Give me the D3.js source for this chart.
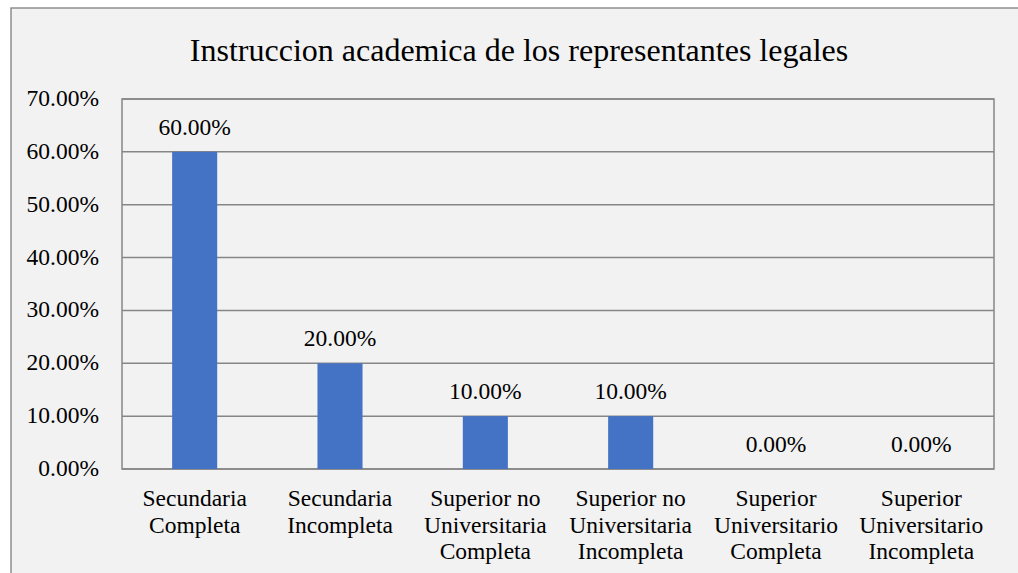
<html>
<head>
  <title>Instruccion academica</title>
  <script src='https://d3js.org/d3.v7.min.js'></script>
</head>
<style type="text/css">
body { margin: 0; background: #fff; }
text { font-family: "Liberation Serif", "Times New Roman", serif; fill: #000; }
</style>
<body>
<script>

var categories = [
  ["Secundaria", "Completa"],
  ["Secundaria", "Incompleta"],
  ["Superior no", "Universitaria", "Completa"],
  ["Superior no", "Universitaria", "Incompleta"],
  ["Superior", "Universitario", "Completa"],
  ["Superior", "Universitario", "Incompleta"]
];
var values = [0.60, 0.20, 0.10, 0.10, 0.00, 0.00];
var yTicks = [0, 0.1, 0.2, 0.3, 0.4, 0.5, 0.6, 0.7];
var title = "Instruccion academica de los representantes legales";

var width = 1018,
    height = 573,
    margin = {top: 99, right: 24, bottom: 104, left: 122};

var svg = d3.select('body')
  .append('svg')
  .attr('width', width)
  .attr('height', height);

// chart frame (runs off the right and bottom edges)
svg.append('rect')
  .attr('x', 11)
  .attr('y', 8)
  .attr('width', 1030)
  .attr('height', 600)
  .attr('fill', '#f2f2f2')
  .attr('stroke', '#7f7f7f')
  .attr('stroke-width', 1.3);

svg.append('text')
  .attr('x', 519)
  .attr('y', 61)
  .attr('text-anchor', 'middle')
  .style('font-size', '32px')
  .text(title);

var pw = width - margin.left - margin.right,
    ph = height - margin.top - margin.bottom;

var g = svg.append('g')
  .attr('transform', 'translate(' + margin.left + ',' + margin.top + ')');

var x = d3.scaleBand()
  .domain(d3.range(categories.length))
  .range([0, pw])
  .paddingInner(0.69)
  .paddingOuter(0.345);

var y = d3.scaleLinear()
  .domain([0, 0.7])
  .range([ph, 0]);

var fmt = d3.format('.2%');

// gridlines
g.selectAll('.grid')
  .data(yTicks)
  .enter().append('line')
  .attr('x1', 0)
  .attr('x2', pw)
  .attr('y1', function(d) { return y(d); })
  .attr('y2', function(d) { return y(d); })
  .attr('stroke', '#868686')
  .attr('stroke-width', 1.5);

g.append('rect')
  .attr('width', pw)
  .attr('height', ph)
  .attr('fill', 'none')
  .attr('stroke', '#868686')
  .attr('stroke-width', 1.5);

// bars
g.selectAll('.bar')
  .data(values)
  .enter().append('rect')
  .attr('x', function(d, i) { return x(i); })
  .attr('y', function(d) { return y(d); })
  .attr('width', x.bandwidth())
  .attr('height', function(d) { return ph - y(d); })
  .attr('fill', '#4472c4');

// value labels
g.selectAll('.lbl')
  .data(values)
  .enter().append('text')
  .attr('x', function(d, i) { return x(i) + x.bandwidth() / 2; })
  .attr('y', function(d) { return y(d) - 17; })
  .attr('text-anchor', 'middle')
  .style('font-size', '23.5px')
  .text(function(d) { return fmt(d); });

// y axis labels
g.selectAll('.ytick')
  .data(yTicks)
  .enter().append('text')
  .attr('x', -23)
  .attr('y', function(d) { return y(d) + 7; })
  .attr('text-anchor', 'end')
  .style('font-size', '23.5px')
  .text(function(d) { return fmt(d); });

// x axis labels
var xl = g.selectAll('.xlab')
  .data(categories)
  .enter().append('text')
  .attr('text-anchor', 'middle')
  .attr('transform', function(d, i) { return 'translate(' + (x(i) + x.bandwidth() / 2) + ',' + (ph + 37) + ')'; })
  .style('font-size', '23.5px');

xl.selectAll('tspan')
  .data(function(d) { return d; })
  .enter().append('tspan')
  .attr('x', 0)
  .attr('dy', function(d, i) { return i === 0 ? 0 : 26.5; })
  .text(function(d) { return d; });

</script>
</body>
</html>
